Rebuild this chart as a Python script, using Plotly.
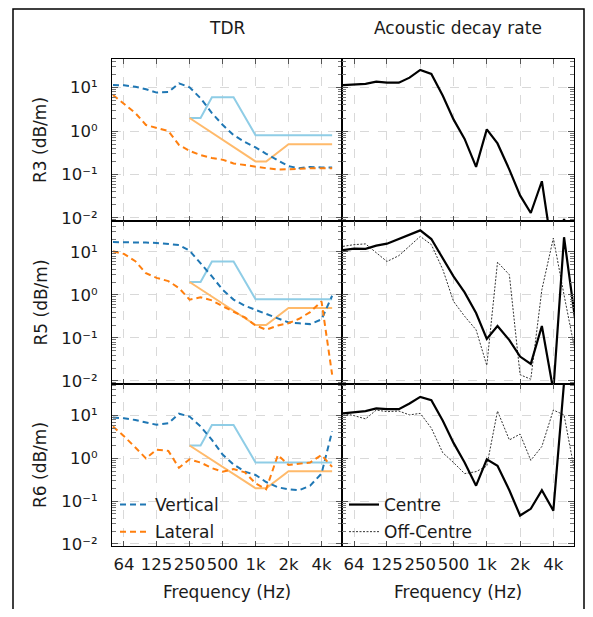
import plotly.graph_objects as go

# page is 593x617; the browser body keeps an 8 px margin, so the figure is 16 px smaller
PAGE_W, PAGE_H = 593, 617
BODY = 8
W, H = PAGE_W - 2 * BODY, PAGE_H - 2 * BODY

# ---------------- data ----------------
freq = [50, 63, 80, 100, 125, 160, 200, 250, 315, 400, 500, 630, 800, 1000,
        1250, 1600, 2000, 2500, 3150, 4000, 5000]
freq_decay = freq + [6300]

x_tickvals = [63, 125, 250, 500, 1000, 2000, 4000]
x_ticktext = ["64", "125", "250", "500", "1k", "2k", "4k"]
y_tickvals = [10, 1, 0.1, 0.01]
y_ticktext = ["10\u00b9", "10\u2070", "10\u207b\u00b9", "10\u207b\u00b2"]

row_names = ["R3 (dB/m)", "R5 (dB/m)", "R6 (dB/m)"]

# TDR - vertical / lateral
r3_vertical = [11.5, 11.3, 10.5, 9.2, 7.7, 7.9, 12.6, 10.2, 5.7, 2.6, 1.4, 0.81, 0.56,
               0.42, 0.30, 0.21, 0.155, 0.14, 0.15, 0.145, 0.145]
r3_lateral = [6.8, 4.3, 2.6, 1.38, 1.2, 1.0, 0.48, 0.35, 0.28, 0.24, 0.22, 0.18, 0.165,
              0.15, 0.14, 0.13, 0.13, 0.135, 0.14, 0.14, 0.14]
r5_vertical = [17, 17, 16.7, 16.5, 16.2, 15.6, 14.5, 10.7, 5.5, 2.7, 1.33, 0.78, 0.56,
               0.45, 0.35, 0.28, 0.23, 0.22, 0.21, 0.27, 0.96]
r5_lateral = [10.4, 9.0, 6.1, 3.2, 2.5, 2.1, 1.45, 0.78, 0.88, 0.75, 0.55, 0.40, 0.30,
              0.195, 0.156, 0.195, 0.22, 0.28, 0.40, 0.71, 0.014]
r6_vertical = [9.0, 8.7, 7.9, 7.0, 6.1, 6.6, 11.1, 9.5, 5.6, 2.7, 1.23, 0.72, 0.49,
               0.41, 0.28, 0.21, 0.19, 0.18, 0.23, 0.44, 4.3]
r6_lateral = [5.6, 3.3, 1.8, 1.0, 1.6, 1.5, 0.6, 0.95, 0.8, 0.59, 0.49, 0.56, 0.47,
              0.26, 0.19, 1.2, 0.7, 0.76, 0.8, 1.2, 0.63]

# recommended ranges (same in every TDR panel)
upper_freq = [250, 315, 400, 630, 1000, 5000]
upper_limit = [2, 2, 6, 6, 0.8, 0.8]
lower_freq = [250, 1000, 1250, 2000, 5000]
lower_limit = [2, 0.2, 0.2, 0.5, 0.5]

# acoustic decay rate - centre / off-centre
r3_centre = [11.5, 12, 12.2, 13.7, 13, 13, 17, 25.6, 20.7, 6.5, 1.86, 0.66, 0.15, 1.1,
             0.52, 0.13, 0.033, 0.013, 0.07, 0.0012, 0.0095, 0.001]
r5_centre = [11, 12, 11.8, 14, 15.6, 20, 25, 31.8, 20, 7.2, 2.7, 1.15, 0.38, 0.095,
             0.19, 0.089, 0.037, 0.025, 0.19, 0.006, 22, 0.27]
r5_offcentre = [13.5, 14.8, 15.4, 9.5, 6.0, 8.2, 13.5, 23, 14.8, 3.9, 0.71, 0.32, 0.155,
                0.023, 5.8, 2.96, 0.014, 0.011, 1.33, 21, 1.0, 0.049]
r6_centre = [11.3, 11.9, 12.8, 14.8, 14.2, 14.2, 19.2, 27.5, 23, 7.6, 2.3, 0.8, 0.23,
             0.95, 0.67, 0.18, 0.046, 0.066, 0.18, 0.06, 60, 100]
r6_offcentre = [11.3, 10, 8.4, 13.5, 12.4, 12.8, 10.4, 11.3, 5.1, 1.35, 0.8, 0.44, 0.49,
                0.66, 12.8, 2.7, 3.7, 0.9, 1.9, 13.5, 10.4, 0.43]

tdr_rows = [(r3_vertical, r3_lateral), (r5_vertical, r5_lateral), (r6_vertical, r6_lateral)]
decay_rows = [(r3_centre, None), (r5_centre, r5_offcentre), (r6_centre, r6_offcentre)]

# ---------------- styling ----------------
FONT = "DejaVu Sans"
FS = 16.5
FS_TITLE = 17
TXT = "#1a1a1a"
C_VERT = "#1f77b4"
C_LAT = "#ff7f0e"
C_UP = "#8fcde6"
C_LO = "#ffba6b"


def px_x(p):
    """page pixel -> paper x"""
    return (p - BODY) / W


def px_y(p):
    """page pixel -> paper y"""
    return 1 - (p - BODY) / H


col_dom = [[px_x(112), px_x(342)], [px_x(342), px_x(574)]]
row_dom = [[px_y(221), px_y(59)], [px_y(384), px_y(221)], [px_y(546), px_y(384)]]
yranges = [[-2.07, 1.66], [-2.07, 1.72], [-2.05, 1.74]]
xrange_log = [1.690, 3.789]

minor_y = [m * 10.0 ** e for e in range(-3, 2) for m in range(2, 10)]

fig = go.Figure()

for r in range(3):
    for c in range(2):
        i = r * 2 + c + 1
        xa = "x" if i == 1 else f"x{i}"
        ya = "y" if i == 1 else f"y{i}"
        if c == 0:
            vert, lat = tdr_rows[r]
            fig.add_trace(go.Scatter(x=upper_freq, y=upper_limit, mode="lines",
                                     line=dict(color=C_UP, width=2), showlegend=False,
                                     xaxis=xa, yaxis=ya, hoverinfo="skip"))
            fig.add_trace(go.Scatter(x=lower_freq, y=lower_limit, mode="lines",
                                     line=dict(color=C_LO, width=2), showlegend=False,
                                     xaxis=xa, yaxis=ya, hoverinfo="skip"))
            fig.add_trace(go.Scatter(x=freq, y=vert, mode="lines", name="Vertical",
                                     line=dict(color=C_VERT, width=2, dash="6px,4px"),
                                     legendgroup="vert", legendrank=1, showlegend=(r == 2),
                                     legend="legend", xaxis=xa, yaxis=ya))
            fig.add_trace(go.Scatter(x=freq, y=lat, mode="lines", name="Lateral",
                                     line=dict(color=C_LAT, width=2, dash="6px,4px"),
                                     legendgroup="lat", legendrank=2, showlegend=(r == 2),
                                     legend="legend", xaxis=xa, yaxis=ya))
        else:
            cen, off = decay_rows[r]
            if off is not None:
                fig.add_trace(go.Scatter(x=freq_decay, y=off, mode="lines", name="Off-Centre",
                                         line=dict(color="#333333", width=1, dash="2px,1.5px"),
                                         legendgroup="off", legendrank=2, showlegend=(r == 2),
                                         legend="legend2", xaxis=xa, yaxis=ya))
            fig.add_trace(go.Scatter(x=freq_decay, y=cen, mode="lines", name="Centre",
                                     line=dict(color="black", width=2.2),
                                     legendgroup="cen", legendrank=1, showlegend=(r == 2),
                                     legend="legend2", xaxis=xa, yaxis=ya))

        common = dict(showline=True, linecolor="black", linewidth=1.3, mirror="ticks",
                      ticks="inside", tickcolor="#555555", showgrid=True,
                      gridcolor="#d9d9d9", griddash="dash", gridwidth=1, zeroline=False,
                      automargin=False,
                      tickfont=dict(family=FONT, size=FS, color=TXT))
        fig.layout[f"xaxis{'' if i == 1 else i}"] = dict(
            type="log", range=xrange_log, domain=col_dom[c], anchor=ya,
            tickmode="array", tickvals=x_tickvals, ticktext=x_ticktext, ticklen=5,
            tickangle=0, showticklabels=(r == 2), ticklabelstandoff=3, **common)
        fig.layout[f"yaxis{'' if i == 1 else i}"] = dict(
            type="log", range=yranges[r], domain=row_dom[r], anchor=xa,
            tickmode="array", tickvals=y_tickvals, ticktext=y_ticktext, ticklen=6,
            showticklabels=(c == 0), ticklabelstandoff=10,
            minor=dict(tickmode="array", tickvals=minor_y, ticks="inside", ticklen=3.5,
                       tickcolor="#777777", showgrid=False),
            **common)

annotations = [
    dict(text="TDR", x=px_x(227), y=px_y(28)),
    dict(text="Acoustic decay rate", x=px_x(458), y=px_y(28)),
    dict(text="Frequency (Hz)", x=px_x(227), y=px_y(592)),
    dict(text="Frequency (Hz)", x=px_x(458), y=px_y(592)),
]
for r, name in enumerate(row_names):
    yc = (row_dom[r][0] + row_dom[r][1]) / 2
    annotations.append(dict(text=name, x=px_x(40), y=yc, textangle=-90))
for a in annotations:
    a.update(xref="paper", yref="paper", showarrow=False, xanchor="center",
             yanchor="middle", font=dict(family=FONT, size=FS_TITLE, color=TXT))

legend_common = dict(bgcolor="rgba(0,0,0,0)", borderwidth=0, xanchor="left",
                     yanchor="top", tracegroupgap=2, traceorder="grouped",
                     font=dict(family=FONT, size=FS_TITLE, color=TXT))

fig.update_layout(
    width=W, height=H,
    margin=dict(l=0, r=0, t=0, b=0, autoexpand=False),
    paper_bgcolor="white", plot_bgcolor="white",
    font=dict(family=FONT, size=FS, color=TXT),
    annotations=annotations,
    legend=dict(x=px_x(115), y=px_y(487), **legend_common),
    legend2=dict(x=px_x(344), y=px_y(487), **legend_common),
    shapes=[dict(type="rect", xref="paper", yref="paper",
                 x0=px_x(13), x1=px_x(584), y0=-0.1, y1=px_y(9),
                 line=dict(color="black", width=1.5), fillcolor="rgba(0,0,0,0)")],
    showlegend=True,
)

fig.write_html("out.html")
